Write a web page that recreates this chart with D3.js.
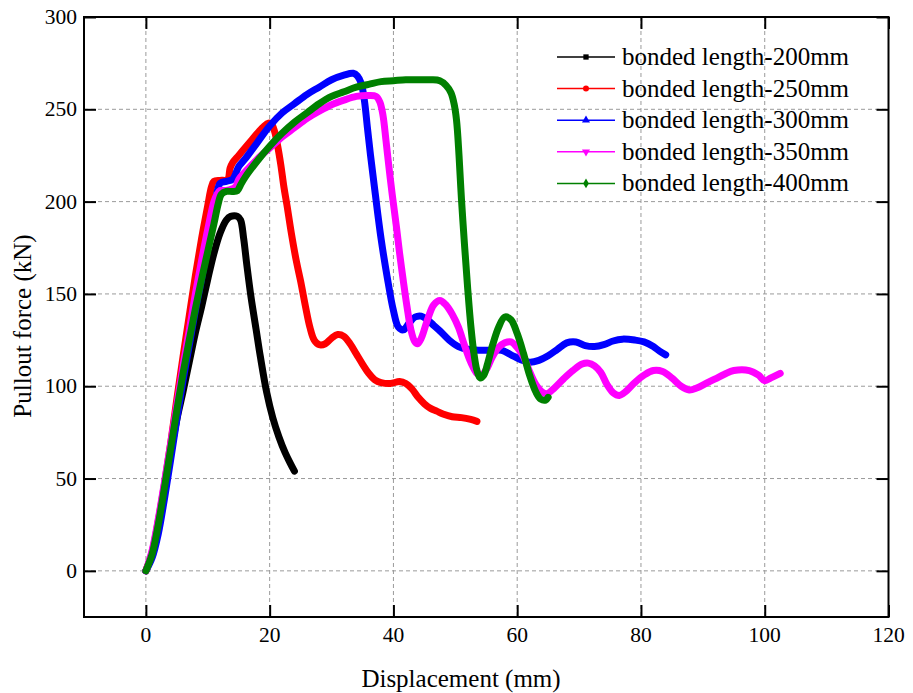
<!DOCTYPE html>
<html>
<head>
<meta charset="utf-8">
<script src="https://cdn.jsdelivr.net/npm/d3@7"></script>
<style>
  body { margin: 0; background: #fff; }
  text { font-family: "Liberation Serif", "Times New Roman", serif; }
</style>
</head>
<body>
<div id="chart"></div>
<script>
const width = 913;
const height = 693;

// series data: [displacement (mm), pullout force (kN)]
const len200 = [[0,0],[1,9],[2,25],[3,45],[4,64],[5,82],[6,97],[7,113],[8,129],[9,143],[10,158],[11,172],[12,183],[13,190],[13.7,192],[14.8,192],[15.3,190],[15.8,180],[16.3,166],[17,148],[17.8,131],[18.5,116],[19.5,97],[20.5,83],[21.5,72.5],[22.5,64],[23.3,58.5],[24,54]];

const len250 = [[0,0],[1,10],[2,27],[3,47],[4,69],[5,93],[6,116],[7,138],[8,160],[9,180],[10,198],[10.6,208],[11,211],[12,211.5],[13.2,212],[13.6,218],[14,221],[15,225],[16,229],[17,233],[18,237],[19,240.5],[19.8,242.5],[20.3,242],[20.8,238],[21.3,230],[21.8,220],[22.3,208],[22.8,198],[23.5,183],[24.3,168],[25,157],[25.8,143],[26.5,132],[27.2,125],[28,122.5],[29,123],[30,126],[31,128],[32,127],[33,123],[34,117.5],[35,112],[36,107],[37,103.5],[38,102],[39.5,101.5],[41,102.5],[42,101.5],[43,98.5],[44,94],[45,90.5],[46,88],[47,86.5],[48,85],[49.5,83.5],[51,83],[52.5,82],[53.5,81]];

const len300 = [[0,0],[1,7],[2,20],[3,39],[4,60],[5,82],[6,103],[7,122],[8,141],[9,158],[10,177],[11,195],[11.5,205],[12,210],[13,211],[14,212],[15,219],[16,223],[18,232],[20,241],[22,248],[24,253],[26,258],[28,262],[30,266],[32,268.5],[33.5,269.5],[34.2,268],[34.8,264],[35.3,255],[35.8,240],[36.3,225],[37,206],[38,180],[39,159],[40,141],[40.8,132],[41.6,130.5],[42.5,134],[43.5,137.5],[44.5,138],[45.5,136],[46.5,133],[47.5,130],[49,125],[50.5,121.5],[52,120],[54,119.5],[56,119.5],[57.5,119.5],[59,117],[60.5,114.5],[62,113],[63.5,114],[65,116.5],[66.5,120],[68,123.5],[69.5,124],[71,122],[72.5,121.5],[74,122.5],[75.5,124.5],[77,125.5],[79,125],[80.5,124],[82,121.5],[83,119],[84,117]];

const len350 = [[0,0],[1,11],[2,28],[3,48],[4,69],[5,90],[6,111],[7,130],[8,150],[9,168],[10,185],[11,200],[11.5,204],[12,206],[13,206],[14,207],[14.5,208],[15,212],[16,216],[18,223],[20,229],[22,235],[24,240],[26,245],[28,249],[30,252.5],[32,255],[34,257],[36,257.5],[37.2,257],[37.8,254],[38.3,247],[38.8,233],[39.3,218],[39.8,204],[40.5,186],[41,172],[41.6,157],[42.2,143],[42.8,131],[43.4,124.5],[43.9,123],[44.5,126],[45.5,136],[46.5,144],[47.5,146.5],[48.5,144],[49.5,139],[50.5,132],[51.5,122],[52.5,113],[53.5,107],[54.2,106],[55,109],[56,116],[57,121],[58,123.5],[59,124],[60,121],[61,116],[62,108],[63,101],[64,97],[64.8,96],[66,99],[67.5,104],[69,108.5],[70.5,112],[71.5,112.5],[72.5,111],[73.5,107.5],[74.5,101],[75.5,96.5],[76.5,95],[77.5,97],[79,102],[80.5,106],[82,108.5],[83.5,108],[85,104.5],[86.5,100],[87.8,98],[89,99],[90.5,101.5],[92,104],[93.5,106.5],[95,108.5],[97.5,108.5],[99,106],[100,103],[101,104.5],[102.5,107]];

const len400 = [[0,0],[1,9],[2,25],[3,45],[4,66],[5,87],[6,107],[7,125],[8,142],[9,158],[10,173],[11,188],[11.7,199],[12.2,204],[13,205.5],[14,205.5],[14.8,206],[15.3,209],[16,213],[18,222],[20,230],[22,237],[24,243],[26,248],[28,253],[30,257],[32,259.5],[34,262],[36,263.5],[38,265],[40,265.5],[42,266],[44,266],[46,266],[47.5,265.5],[48.5,263],[49.3,259],[49.8,253],[50.2,244],[50.6,225],[51,201],[51.5,176],[52,153],[52.5,133],[53,118],[53.5,108.5],[54,104.5],[54.6,106],[55.2,112],[56,122],[57,132],[58,137.5],[59,136],[60,128.5],[61,118],[62,106],[63,97],[63.8,93],[64.6,92.5],[65,94]];

const seriesNames = ["bonded length-200mm", "bonded length-250mm", "bonded length-300mm", "bonded length-350mm", "bonded length-400mm"];
const seriesData = [len200, len250, len300, len350, len400];
const seriesColors = ["#000000", "#ff0000", "#0000ff", "#ff00ff", "#008000"];
const seriesSymbols = [d3.symbolSquare, d3.symbolCircle, d3.symbolTriangle, d3.symbolTriangle, d3.symbolDiamond];

const xTicks = [0, 20, 40, 60, 80, 100, 120];
const yTicks = [0, 50, 100, 150, 200, 250, 300];

const plotLeft = 84, plotRight = 888.5, plotTop = 17, plotBottom = 617;

const svg = d3.select("#chart")
    .append("svg")
    .attr("width", width)
    .attr("height", height);

const x = d3.scaleLinear().domain([-10, 120]).range([plotLeft, plotRight]);
const y = d3.scaleLinear().domain([-25, 300]).range([plotBottom, plotTop]);

// grid lines
const grid = svg.append("g");
grid.selectAll(".gx")
    .data(xTicks.filter(d => d < 120))
    .enter().append("line")
    .attr("x1", d => x(d)).attr("x2", d => x(d))
    .attr("y1", plotTop).attr("y2", plotBottom)
    .attr("stroke", "#9a9a9a").attr("stroke-width", 1)
    .attr("stroke-dasharray", "4,3");
grid.selectAll(".gy")
    .data(yTicks.filter(d => d < 300))
    .enter().append("line")
    .attr("x1", plotLeft).attr("x2", plotRight)
    .attr("y1", d => y(d)).attr("y2", d => y(d))
    .attr("stroke", "#9a9a9a").attr("stroke-width", 1)
    .attr("stroke-dasharray", "4,3");

// curves
const line = d3.line()
    .x(d => x(d[0]))
    .y(d => y(d[1]))
    .curve(d3.curveCatmullRom);

svg.append("g").selectAll("path")
    .data(seriesData)
    .enter().append("path")
    .attr("d", line)
    .attr("fill", "none")
    .attr("stroke", (d, i) => seriesColors[i])
    .attr("stroke-width", 7)
    .attr("stroke-linejoin", "round")
    .attr("stroke-linecap", "round");

// frame with inward ticks
const tickLen = 12;
const axes = svg.append("g");
axes.append("g").attr("transform", `translate(0,${plotBottom})`)
    .call(d3.axisTop(x).tickValues(xTicks).tickSize(tickLen).tickFormat(""));
axes.append("g").attr("transform", `translate(0,${plotTop})`)
    .call(d3.axisBottom(x).tickValues(xTicks).tickSize(tickLen).tickFormat(""));
axes.append("g").attr("transform", `translate(${plotLeft},0)`)
    .call(d3.axisRight(y).tickValues(yTicks).tickSize(tickLen).tickFormat(""));
axes.append("g").attr("transform", `translate(${plotRight},0)`)
    .call(d3.axisLeft(y).tickValues(yTicks).tickSize(tickLen).tickFormat(""));
axes.selectAll(".domain").remove();
axes.selectAll(".tick line").attr("stroke", "#000").attr("stroke-width", 2);

svg.append("rect")
    .attr("x", plotLeft).attr("y", plotTop)
    .attr("width", plotRight - plotLeft).attr("height", plotBottom - plotTop)
    .attr("fill", "none").attr("stroke", "#000").attr("stroke-width", 2);

// tick labels
svg.selectAll(".xl")
    .data(xTicks)
    .enter().append("text")
    .attr("x", d => x(d)).attr("y", 642)
    .attr("text-anchor", "middle")
    .attr("font-size", 21.5)
    .text(d => d);
svg.selectAll(".yl")
    .data(yTicks)
    .enter().append("text")
    .attr("x", 77).attr("y", d => y(d) + 7)
    .attr("text-anchor", "end")
    .attr("font-size", 21.5)
    .text(d => d);

// axis titles
svg.append("text")
    .attr("x", 461).attr("y", 687)
    .attr("text-anchor", "middle")
    .attr("font-size", 25)
    .text("Displacement (mm)");
svg.append("text")
    .attr("transform", "translate(31,326) rotate(-90)")
    .attr("text-anchor", "middle")
    .attr("font-size", 25)
    .text("Pullout force (kN)");

// legend
const legend = svg.append("g");
seriesNames.forEach((name, i) => {
    const ly = 57 + i * 31.6;
    legend.append("line")
        .attr("x1", 557).attr("x2", 615)
        .attr("y1", ly).attr("y2", ly)
        .attr("stroke", seriesColors[i]).attr("stroke-width", 1.5);
    legend.append("path")
        .attr("d", d3.symbol().type(seriesSymbols[i]).size(28)())
        .attr("transform", `translate(586,${ly})` + (i === 3 ? " rotate(180)" : ""))
        .attr("fill", seriesColors[i]);
    legend.append("text")
        .attr("x", 622).attr("y", ly + 8)
        .attr("font-size", 25)
        .text(name);
});
</script>
</body>
</html>
